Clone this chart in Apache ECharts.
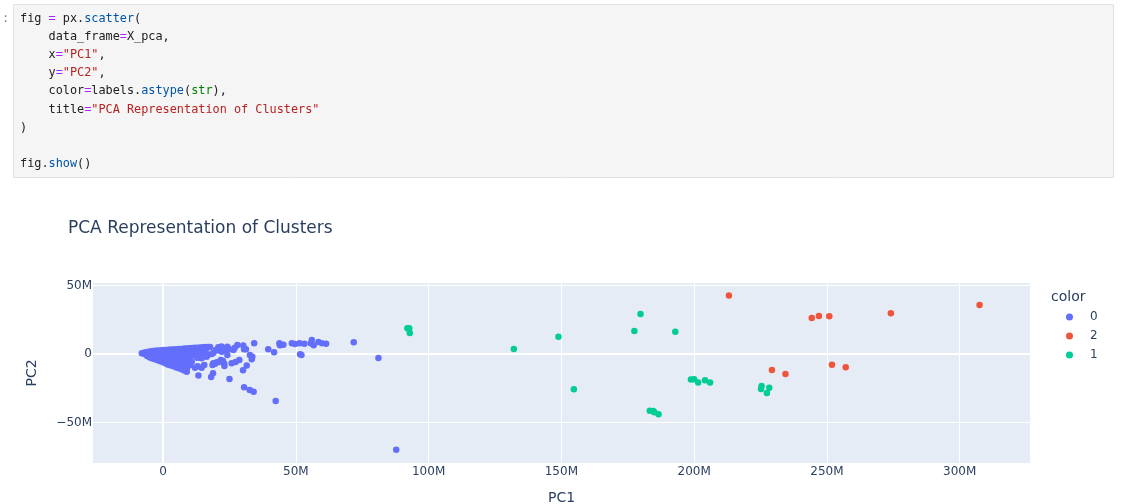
<!DOCTYPE html>
<html>
<head>
<meta charset="utf-8">
<style>html,body{margin:0;padding:0;background:#fff}#c{width:1123px;height:504px}</style>
<script src="https://cdn.jsdelivr.net/npm/echarts@6/dist/echarts.min.js"></script>
</head>
<body>
<div id="c"></div>
<script>
const chartTitle = "PCA Representation of Clusters";
const xTicks = [0, 50, 100, 150, 200, 250, 300];
const yTicks = [-50, 0, 50];
const legendOrder = ["0", "2", "1"];

// values in millions
const cluster0 = [
  [-8,0.5],[-7,1],[-7,0],
  [-6,1.5],[-6,0],[-6,-1.5],[-5,1.8],[-5,-0.5],[-5,-2.5],
  [-4,2.2],[-4,0],[-4,-2],[-4,-3.3],[-3,2.3],[-3,-1],[-3,-3.8],
  [-2,2.5],[-2,0],[-2,-2.5],[-2,-4.6],[-1,2.6],[-1,-1.2],[-1,-4],[-1,-5.3],
  [0,2.8],[0,0],[0,-3],[0,-6],[1,2.9],[1,-1.5],[1,-4.5],[1,-7],
  [2,3],[2,0],[2,-3],[2,-6],[2,-7.8],[3,3.2],[3,-1.5],[3,-4.5],[3,-8.5],
  [4,3.3],[4,0],[4,-3],[4,-6],[4,-9],[5,3.4],[5,-1.5],[5,-4.5],[5,-7.5],[5,-9.8],
  [6,3.6],[6,0],[6,-3],[6,-6],[6,-9],[6,-10.5],[7,3.7],[7,-1.5],[7,-4.5],[7,-7.5],[7,-11.2],
  [8,3.9],[8,0.5],[8,-3],[8,-6],[8,-9],[8,-12],[8.9,-12.9],
  [9,4],[9,-1.5],[9,-4.5],[9,-7.5],[9,-10.5],
  [10,4.2],[10,1],[10,-2],[10,-4.5],[10,-8],[11,4.3],[11,2],[11,-1],
  [12,4.5],[12,1.5],[12,-1],[12,-10],[13,4.6],[13,2.5],[13,0],
  [14,4.8],[14,2],[14.5,-10],[15,4.9],[15,3],
  [16,5],[16,2.5],[17,5.1],[17.7,5],
  [13,-2.8],[15,-1.5],[17,-0.5],[19,0.8],[21,2.5],
  [20.8,4.9],[19.9,2.9],[22.1,1.7],[24.2,5.3],[23.3,2.9],[24.2,-0.7],[26.5,2.9],
  [28,6.6],[30.2,6.1],[30.5,3.4],[31.2,3.4],[18.3,0],[16.4,-2],[14.5,-3.2],[15.8,2.9],
  [12.7,-2.4],[10.8,-5.6],[27,4.5],[25,3.5],[22,5.5],
  [34.3,7.8],[39.6,3.4],[41.8,1.2],
  [32.7,-0.7],[33.6,-2],[33.4,-3.9],
  [28.7,-4.4],[27.3,-5.9],[25.8,-6.8],
  [23.1,-8.8],[22.5,-4.9],[21.7,-4.4],[20.2,-6.1],[18.9,-6.8],[18.6,-8],[19.6,-7.2],[21,-5.8],[23,-7],
  [15.5,-8],[13,-9],[10.1,-8],
  [31.5,-8.5],[30.1,-11.9],
  [13.3,-15.8],[18.1,-16.8],[18.8,-14.1],[25,-18.3],
  [30.5,-24.3],[32.6,-26.3],[34.1,-27.5],
  [42.4,-34.3],[87.8,-70],
  [43.8,7.8],[44,6.3],[45.3,6.8],
  [48.5,7.8],[49.7,7.3],[51.4,7.8],[53.2,7.5],
  [51.6,-0.3],[52.1,-0.7],
  [55.6,7.8],[56,10.2],[56.7,6.3],[58.5,8.7],[59.8,7.8],[61.4,7.5],
  [71.8,8.5],[81.1,-2.9]
];
const cluster2 = [
  [213.1,42.6],[229.3,-11.7],[234.4,-14.6],[244.3,26.3],[247,27.7],
  [250.9,27.5],[274.1,29.7],[307.5,35.8],[251.9,-7.8],[257.1,-9.7]
];
const cluster1 = [
  [92,18.7],[92.7,18.7],[92.9,15.3],[132.1,3.6],[148.9,12.6],[154.7,-25.8],
  [179.8,29.2],[177.5,16.8],[192.9,16.3],
  [198.8,-18.7],[200,-18.5],[201.5,-20.9],[204.1,-19.2],[206,-20.9],
  [183.3,-41.4],[184.6,-41.6],[185,-42.6],[186.6,-44.1],
  [225.4,-23.4],[225.2,-25.6],[228.3,-24.6],[227.4,-28.5]
];

const C = {n:"#212121", o:"#aa22ff", p:"#0055aa", s:"#ba2121", b:"#008000"};
const codeLines = [
  [["fig ","n"],["=","o"],[" px.","n"],["scatter","p"],["(","n"]],
  [["    data_frame","n"],["=","o"],["X_pca,","n"]],
  [["    x","n"],["=","o"],['"PC1"',"s"],[",","n"]],
  [["    y","n"],["=","o"],['"PC2"',"s"],[",","n"]],
  [["    color","n"],["=","o"],["labels.","n"],["astype","p"],["(","n"],["str","b"],["),","n"]],
  [["    title","n"],["=","o"],['"PCA Representation of Clusters"',"s"]],
  [[")","n"]],
  [],
  [["fig.","n"],["show","p"],["()","n"]]
];

const SANS = '"DejaVu Sans", Verdana, sans-serif';
const INK = "#2a3f5f";
const codeRich = {};
Object.keys(C).forEach(k => codeRich[k] = {fill:C[k], fontFamily:'"DejaVu Sans Mono", monospace', fontSize:11.85});
const graphics = [
  {type:"rect", shape:{x:13.5,y:4.5,width:1100,height:173}, style:{fill:"#f5f5f5",stroke:"#e0e0e0",lineWidth:1}, silent:true},
  {type:"text", x:2, y:13, style:{text:":", fill:"#888", font:'12px "DejaVu Sans Mono", monospace'}, silent:true},
  {type:"text", x:1051, y:290, style:{text:"color", fill:INK, font:'14px '+SANS}, silent:true}
];
codeLines.forEach((ln,i)=>{
  if(!ln.length) return;
  graphics.push({type:"text", x:20, y:13+i*18.1, silent:true, style:{
    text: ln.map(t=>"{"+t[1]+"|"+t[0]+"}").join(""),
    rich: codeRich
  }});
});

const fmt = v => v===0 ? "0" : (v<0?"\u2212":"")+Math.abs(v)+"M";
const zero = {silent:true, symbol:"none", z:1, animation:false, label:{show:false},
  lineStyle:{color:"#fff",width:2,type:"solid"},
  data:[{xAxis:0},{yAxis:0}]};
const solid = c => ({color:c, opacity:1});

const chart = echarts.init(document.getElementById("c"), null, {renderer:"canvas", width:1123, height:504});
chart.setOption({
  animation:false,
  backgroundColor:"#fff",
  textStyle:{fontFamily:SANS},
  title:{text:chartTitle, left:68, top:220, padding:0, textStyle:{color:INK,fontSize:17,fontWeight:"normal",fontFamily:SANS}},
  legend:{data:legendOrder, orient:"vertical", left:1066, top:311, icon:"circle", itemWidth:7, itemHeight:7, itemGap:7, padding:0,
    textStyle:{color:INK,fontSize:12,fontFamily:SANS,padding:[0,0,0,12]}, selectedMode:false},
  grid:{left:93, right:93, top:283, height:180, show:true, backgroundColor:"#e5ecf6", borderWidth:0, outerBoundsMode:"none"},
  xAxis:{type:"value", min:-26.4, max:326.5, name:"PC1", nameLocation:"middle", nameGap:28,
    nameTextStyle:{color:INK,fontSize:14,fontFamily:SANS},
    axisLine:{show:false}, axisTick:{show:false, customValues:xTicks},
    axisLabel:{color:INK,fontSize:12,margin:3,customValues:xTicks,formatter:fmt,showMinLabel:true,showMaxLabel:true,hideOverlap:false},
    splitLine:{show:true,lineStyle:{color:"#fff",width:1}}},
  yAxis:{type:"value", min:-79.6, max:51.8, name:"PC2", nameLocation:"middle", nameGap:54,
    nameTextStyle:{color:INK,fontSize:14,fontFamily:SANS},
    axisLine:{show:false}, axisTick:{show:false, customValues:yTicks},
    axisLabel:{color:INK,fontSize:12,margin:1,customValues:yTicks,formatter:fmt,hideOverlap:false},
    splitLine:{show:true,lineStyle:{color:"#fff",width:1}}},
  graphic:graphics,
  series:[
    {name:"0", type:"scatter", data:cluster0, symbolSize:6.5, itemStyle:solid("#636efa"), markLine:zero},
    {name:"2", type:"scatter", data:cluster2, symbolSize:6.5, itemStyle:solid("#EF553B")},
    {name:"1", type:"scatter", data:cluster1, symbolSize:6.5, itemStyle:solid("#00cc96")}
  ]
});
</script>
</body>
</html>
